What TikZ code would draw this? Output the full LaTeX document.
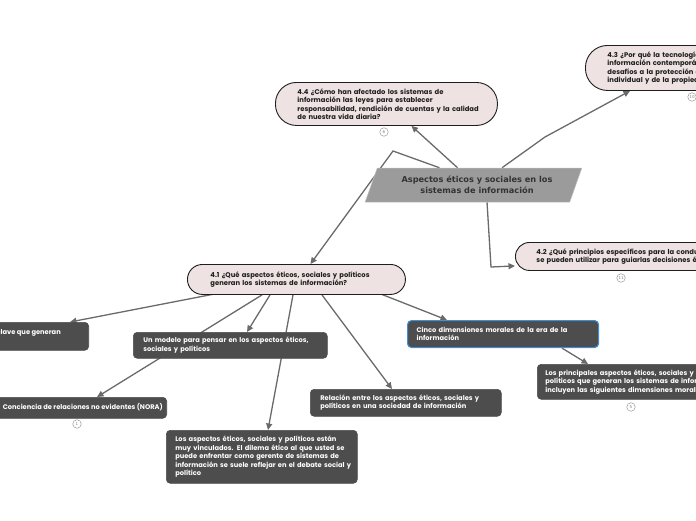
\documentclass[tikz,border=0pt]{standalone}
\usepackage{fontspec}
\setmainfont{DejaVu Sans}
\newfontfamily\boxfont{Poppins}
\newfontfamily\dvfont{DejaVu Sans}
\usetikzlibrary{shapes.geometric,arrows.meta,calc}
\definecolor{pinkfill}{HTML}{EEE2E2}
\definecolor{darkfill}{HTML}{4D4D4D}
\definecolor{centergray}{HTML}{9B9B9B}
\definecolor{linegray}{HTML}{6A6A6A}
\definecolor{bluebord}{HTML}{3D8FD6}
\definecolor{txtdark}{HTML}{1E1E1E}
\newcommand\mline[1]{\mbox{#1}}
\pgfdeclarelayer{bg}
\pgfsetlayers{bg,main}
\tikzset{
  pinkbox/.style={draw=txtdark, line width=0.9pt, fill=pinkfill, align=left, text=txtdark,
    font=\boxfont\bfseries\fontsize{6.8}{8.5}\selectfont, inner ysep=0pt, anchor=north west},
  darkbox/.style={draw=black!70, line width=0.6pt, fill=darkfill, rounded corners=4pt, align=left, text=white,
    font=\boxfont\bfseries\fontsize{6.7}{8.5}\selectfont, inner ysep=0pt, anchor=north west},
  darktext/.style={text=white, font=\boxfont\bfseries\fontsize{6.7}{8.5}\selectfont, inner sep=0pt},
  conn/.style={draw=linegray, line width=1.3pt, -{Triangle[length=6.5pt,width=6pt]}},
  numcirc/.style={circle, draw=black!40, fill=white, line width=0.5pt, minimum size=8.5pt, inner sep=0pt,
    text=black!50, font=\dvfont\fontsize{4}{4}\selectfont},
}
\begin{document}
\begin{tikzpicture}[x=1pt,y=-1pt]
\useasboundingbox (0,0) rectangle (696,520);
\clip (0,0) rectangle (696,520);

% central
\node[trapezium, trapezium left angle=60, trapezium right angle=120, trapezium stretches=true,
  minimum width=217pt, minimum height=34pt, inner sep=0pt, fill=centergray, draw=black!25, line width=0.5pt,
  align=center, text=black!80, font=\dvfont\bfseries\fontsize{8.2}{10.5}\selectfont] (c) at (473.5,185)
  {\hspace*{7pt}Aspectos éticos y sociales en los\\\hspace*{7pt}sistemas de información};

% pink question nodes
\node[pinkbox, rounded corners=21pt, inner xsep=22pt, text width=178pt, minimum height=43pt] (n44) at (275,82)
  {\mline{4.4 ¿Cómo han afectado los sistemas de}\\\mline{información las leyes para establecer}\\\mline{responsabilidad, rendición de cuentas y la calidad}\\\mline{de nuestra vida diaria?}};
\node[pinkbox, rounded corners=22pt, inner xsep=22pt, text width=210pt, minimum height=45pt] (n43) at (585,45)
  {\mline{4.3 ¿Por qué la tecnología de los sistemas de}\\\mline{información contemporánea y la Internet}\\\mline{desafíos a la protección de la privacidad}\\\mline{individual y de la propiedad intelectual?}};
\node[pinkbox, rounded corners=14pt, inner xsep=21pt, text width=230pt, minimum height=28pt] (n42) at (515,242)
  {\mline{4.2 ¿Qué principios específicos para la conducta}\\\mline{se pueden utilizar para guiarlas decisiones éticas?}};
\node[pinkbox, rounded corners=15pt, inner xsep=23pt, text width=172pt, minimum height=30pt] (n41) at (187,264)
  {\mline{4.1 ¿Qué aspectos éticos, sociales y políticos}\\\mline{generan los sistemas de información?}};

% dark nodes
\node[darkbox, anchor=north east, minimum width=200pt, minimum height=28pt] (nk) at (89,322) {};
\node[darktext, anchor=east] (tk) at (61,333) {Tendencias tecnológicas clave que generan};
\node[darkbox, inner xsep=10pt, text width=174pt, minimum height=26pt] (nm) at (133,332)
  {\mline{Un modelo para pensar en los aspectos éticos,}\\\mline{sociales y políticos}};
\node[darkbox, draw=bluebord, line width=1.1pt, inner xsep=9pt, text width=173pt, minimum height=27pt] (nd) at (407,320)
  {\mline{Cinco dimensiones morales de la era de la}\\\mline{información}};
\node[darkbox, anchor=north east, minimum width=220pt, minimum height=21pt] (nc) at (167,397) {};
\node[darktext, anchor=east] (tc) at (163,407.5) {Conciencia de relaciones no evidentes (NORA)};
\node[darkbox, inner xsep=10pt, text width=171pt, minimum height=27pt] (nr) at (310,389)
  {\mline{Relación entre los aspectos éticos, sociales y}\\\mline{políticos en una sociedad de información}};
\node[darkbox, inner xsep=9pt, text width=173pt, minimum height=53pt] (na) at (166,430)
  {\mline{Los aspectos éticos, sociales y políticos están}\\\mline{muy vinculados. El dilema ético al que usted se}\\\mline{puede enfrentar como gerente de sistemas de}\\\mline{información se suele reflejar en el debate social y}\\\mline{político}};
\node[darkbox, inner xsep=8pt, text width=210pt, minimum height=35pt] (np) at (537,364)
  {\mline{Los principales aspectos éticos, sociales y}\\\mline{políticos que generan los sistemas de información}\\\mline{incluyen las siguientes dimensiones morales}};

% number circles
\node[numcirc] (k6) at (384,132) {6};
\node[numcirc] (k10) at (692,97) {10};
\node[numcirc] (k11) at (621,278) {11};
\node[numcirc] (k1) at (77,424) {1};
\node[numcirc] (k5) at (631,407) {5};

% connectors
\begin{pgfonlayer}{bg}
\coordinate (b1) at (393,151);
\coordinate (b2) at (545,137);
\coordinate (b3) at (491,267);
\draw[conn] ($(c.north)+(-16,0)$) -- ($(n44.south)+(25,0)$);
\draw[conn] ($(c.north)+(-34,0)$) -- (b1) -- ($(n41.north)+(14,0)$);
\draw[conn] ($(c.north)+(28.5,0)$) -- (b2) -- ($(n43.south west)+(45,0)$);
\draw[conn] ($(c.south)+(13.5,0)$) -- (b3) -- ($(n42.south west)+(0,-5)$);
\draw[conn] ($(n41.south west)+(28,-1)$) -- ($(nk.north east)+(-19,0)$);
\draw[conn] ($(n41.south west)+(83,0)$) -- ($(nm.north west)+(114,0)$);
\draw[conn] ($(n41.south west)+(75,0)$) -- ($(nc.north east)+(-70,0)$);
\draw[conn] ($(n41.south west)+(106,0)$) -- ($(na.north west)+(102,0)$);
\draw[conn] ($(n41.south west)+(135,0)$) -- ($(nr.north west)+(82,0)$);
\draw[conn] ($(n41.south west)+(191,-2)$) -- ($(nd.north west)+(40,0)$);
\draw[conn] ($(nd.south west)+(155,0)$) -- ($(np.north west)+(51,0)$);
\end{pgfonlayer}
\end{tikzpicture}
\end{document}
